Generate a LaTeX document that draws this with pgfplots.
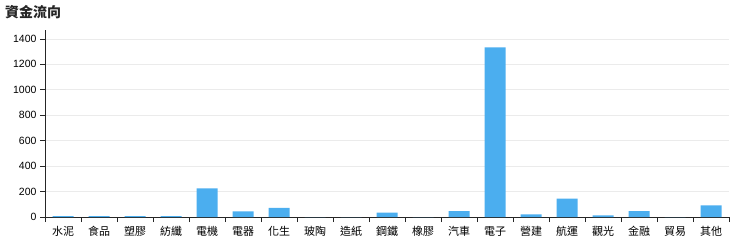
\documentclass[border=0pt]{standalone}
\usepackage{fontspec}
\setmainfont{Liberation Sans}
\newfontfamily\cjk{Noto Sans CJK TC}
\usepackage{pgfplots}
\pgfplotsset{compat=1.18}
\definecolor{barblue}{RGB}{75,174,239}
\definecolor{gridgray}{RGB}{235,235,235}
\begin{document}
\begin{tikzpicture}[x=1bp,y=1bp]
\useasboundingbox (0,0) rectangle (740,247);
\node[anchor=west,font=\cjk\bfseries\fontsize{14bp}{16bp}\selectfont,text=black!85,inner sep=0pt] at (5,235) {資金流向};
\begin{axis}[
  at={(45bp,30bp)}, anchor=south west,
  scale only axis, width=684bp, height=187bp,
  xmin=-0.5, xmax=18.5, ymin=0, ymax=1470,
  axis x line*=bottom, axis y line*=left,
  axis line style={black!85, line width=0.8pt},
  xtick={0,...,18},
  xticklabels={水泥,食品,塑膠,紡纖,電機,電器,化生,玻陶,造紙,鋼鐵,橡膠,汽車,電子,營建,航運,觀光,金融,貿易,其他},
  x tick label style={font=\cjk\fontsize{11bp}{13bp}\selectfont, yshift=-1bp},
  major x tick style={draw=none},
  minor xtick={-0.5,0.5,...,18.5},
  minor x tick style={black!85, line width=0.8pt},
  minor tick length=5bp,
  ytick={0,200,...,1400},
  y tick label style={font=\fontsize{10.5bp}{12bp}\selectfont},
  major y tick style={black!85, line width=0.8pt},
  major tick length=5bp,
  tick align=outside,
  ymajorgrids, major grid style={gridgray, line width=0.6pt},
  /pgf/number format/assume math mode=true,
  /pgf/number format/1000 sep={},
  ybar, bar width=21bp, bar shift=0pt,
  clip=false,
]
\addplot[fill=barblue, draw=none] coordinates {
(0,6) (1,6) (2,6) (3,6) (4,226) (5,45) (6,71) (7,0) (8,0) (9,34)
(10,0) (11,47) (12,1333) (13,20) (14,144) (15,13) (16,47) (17,0) (18,91)
};
\end{axis}
\end{tikzpicture}
\end{document}
